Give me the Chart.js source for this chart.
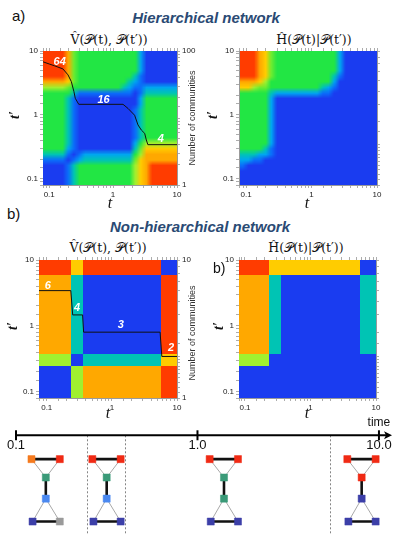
<!DOCTYPE html>
<html><head><meta charset="utf-8">
<script src="https://cdn.jsdelivr.net/npm/chart.js@4.4.1/dist/chart.umd.min.js"></script>
<style>
html,body{margin:0;padding:0;background:#fff}
body{width:399px;height:539px;position:relative;overflow:hidden;font-family:Arial,"Liberation Sans",sans-serif;color:#111}
canvas{position:absolute}
.t{position:absolute;white-space:nowrap;line-height:1;transform:translate(-50%,-50%)}
.pl{font-size:15px;transform:none}
.hd{font-weight:bold;font-style:italic;font-size:15px;color:#2a4a74}
.m{font-family:"DejaVu Serif","Liberation Serif",serif;font-size:12.5px}
.ax{font-family:"Liberation Serif","DejaVu Serif",serif;font-style:italic;font-size:16px}
.ay{font-family:"Liberation Serif","DejaVu Serif",serif;font-style:italic;font-weight:bold;font-size:14px;transform:translate(-50%,-50%) rotate(-90deg)}
.nc{font-size:9px;color:#333;transform:translate(-50%,-50%) rotate(-90deg)}
</style></head><body>
<div class="t pl" style="left:12px;top:8px">a)</div>
<div class="t hd" style="left:206px;top:17px">Hierarchical network</div>
<div class="t m" style="left:109px;top:40px">V&#770;(𝒫(t), 𝒫(t&#8242;))</div>
<div class="t m" style="left:314px;top:40px">Ĥ(𝒫(t)|𝒫(t&#8242;))</div>
<div class="t pl" style="left:7px;top:206px">b)</div>
<div class="t hd" style="left:200px;top:226px">Non-hierarchical network</div>
<div class="t m" style="left:108px;top:248px">V&#770;(𝒫(t), 𝒫(t&#8242;))</div>
<div class="t m" style="left:306px;top:248px">Ĥ(𝒫(t)|𝒫(t&#8242;))</div>

<canvas id="cA1" width="205" height="171" style="left:0;top:44px"></canvas>
<canvas id="cA2" width="194" height="171" style="left:205px;top:44px"></canvas>
<canvas id="cB1" width="205" height="175" style="left:0;top:253px"></canvas>
<canvas id="cB2" width="194" height="175" style="left:205px;top:253px"></canvas>
<canvas id="cT" width="399" height="134" style="left:0;top:405px"></canvas>

<div class="t ay" style="left:15px;top:115px">t&#8242;</div>
<div class="t ay" style="left:213px;top:115px">t&#8242;</div>
<div class="t ay" style="left:13px;top:326px">t&#8242;</div>
<div class="t ay" style="left:219px;top:326px">t&#8242;</div>
<div class="t ax" style="left:110px;top:203px">t</div>
<div class="t ax" style="left:307px;top:203px">t</div>
<div class="t ax" style="left:108px;top:413px">t</div>
<div class="t ax" style="left:307px;top:413px">t</div>
<div class="t nc" style="left:192px;top:118px">Number of communities</div>
<div class="t nc" style="left:192px;top:333px">Number of communities</div>
<div class="t pl" style="left:213px;top:261px;font-size:14px">b)</div>

<script>
// ---------- colour levels (0 = low, 9 = high) ----------
const PALETTE = ['#1a3cf0','#0a6efa','#00a6f0','#00c4b4','#22e644','#6cec30','#a0f030','#ffcc00','#ffa800','#ff3c00'];

// ---------- (a) hierarchical network ----------
const edgesA = [0.08,0.098,0.12,0.146,0.179,0.219,0.267,0.327,0.40,0.489,0.598,0.731,0.894,1.094,1.338,1.636,2.0,2.446,2.991,3.657,4.472,5.469,6.688,8.177,10];
// rows from t'=10 (top) down to t'=0.08 (bottom); one digit per t bin
const V_hier = [
'999985444444444442000000',
'999985444444444442000000',
'999985444444444442000000',
'999985444444444442000000',
'999985444444444431000000',
'888875444444444321000000',
'666654444444443211222222',
'444443111111111101333333',
'444431000000000002444444',
'444431000000000002444444',
'444431000000000013444444',
'444431000000000013444444',
'444431000000000013444444',
'444431000000000013444444',
'444431000000000013444444',
'444431000000000013444444',
'444431000000000024666666',
'444421000000000035777777',
'333310122222222246888888',
'111101233333333357888888',
'000013444444444467899999',
'000013444444444467899999',
'000013444444444467899999',
'000013444444444467899999'];
const H_hier = [
'999875444444444442000000',
'999875444444444442000000',
'999875444444444442000000',
'999875444444444442000000',
'999875444444444431000000',
'888764444444444420000000',
'776554444444443210000000',
'444443222222221100000000',
'444442000000000000000000',
'444442000000000000000000',
'444442000000000000000000',
'444442000000000000000000',
'444442000000000000000000',
'444442000000000000000000',
'444442000000000000000000',
'444442000000000000000000',
'444442000000000000000000',
'444431000000000000000000',
'333221000000000000000000',
'221100000000000000000000',
'100000000000000000000000',
'000000000000000000000000',
'000000000000000000000000',
'000000000000000000000000'];
const commA_t = [0.08,0.1,0.122,0.164,0.197,0.222,0.244,0.256,0.29,1.43,1.71,2.17,2.45,2.77,3.12,3.31,3.5,10];
const commA_n = [69,64,60,54,44,35,24.7,19.7,16,16,13.9,11,7.9,6.6,5.9,4.7,4,4];
const tagA = ['64','16','4'], tagA_t = [0.146,0.71,5.6], tagA_n = [68,18.6,4.9];

// ---------- (b) non-hierarchical network ----------
const edgesB = [0.07,0.24,0.365,5.8,10];
const V_non = ['9790','8309','6037','0689'];
const H_non = ['9770','8303','6000','0000'];
const commB_t = [0.07,0.234,0.25,0.355,0.368,5.5,5.85,10];
const commB_n = [6,6,4,4,3,3,2,2];
const tagB = ['6','4','3','2'], tagB_t = [0.104,0.293,1.37,8.07], tagB_n = [6.5,4.5,3.38,2.3];

// ---------- time line with network snapshots ----------
const timeMarks = [0.1,1,10];
const timeMarkLabels = ['0.1','1.0','10.0'];
const timeBounds = [0.245,0.40,5.4];
const snapT = [0.146,0.316,1.40,8.03];
const RED='#f02a14', ORG='#f57a1e', GRN='#3a9a78', LBL='#4a88f0', DBL='#3c3fa8', GRY='#9a9a9a';
const snapColors = [[ORG,RED,GRN,LBL,DBL,GRY],[RED,RED,GRN,LBL,DBL,DBL],[RED,RED,GRN,GRN,DBL,DBL],[RED,RED,RED,DBL,DBL,DBL]];
const nodeDX = [-0.079,0.077,0,0,-0.073,0.077];   // offsets in decades
const nodeY = [53,53,73,96,121,121];
const edgeList = [[0,1,1],[0,2,0],[1,2,0],[2,3,1],[3,4,0],[3,5,0],[4,5,1]];

// ---------- helpers ----------
function hexRGB(h){ return [parseInt(h.slice(1,3),16),parseInt(h.slice(3,5),16),parseInt(h.slice(5,7),16)]; }
function axis(pos, min, max, labels, size){
  const horiz = pos==='top'||pos==='bottom';
  return {
    type:'logarithmic', position:pos, min:min, max:max,
    afterFit(s){ if(horiz) s.height=size; else s.width=size; },
    grid:{drawOnChartArea:false, drawTicks:true, tickLength:3, color:'#8a8a8a', lineWidth:0.7},
    border:{display:true, color:'#9a9a9a', width:1},
    ticks:{autoSkip:false, maxRotation:0, minRotation:0, padding:2, color:'#222',
      font:{family:'Arial', size:8},
      callback:(v)=>{ const m = labels.find(l=>Math.abs(v/l-1)<1e-6); return m===undefined ? '' : String(m); }}
  };
}
// smooth: cells form a regular (log-spaced) grid and are blended like the original's interpolated image
function heatPlugin(xEdges, yEdges, rows, smooth){
  return {id:'heat', beforeDatasetsDraw(chart){
    const {ctx, chartArea:a, scales:{x,y}} = chart;
    ctx.save();
    ctx.beginPath(); ctx.rect(a.left,a.top,a.right-a.left,a.bottom-a.top); ctx.clip();
    const n = rows.length, m = rows[0].length;
    if(smooth){
      const off = document.createElement('canvas'); off.width=m; off.height=n;
      const octx = off.getContext('2d'); const img = octx.createImageData(m,n);
      rows.forEach((row,r)=>{ for(let c=0;c<m;c++){ const rgb=hexRGB(PALETTE[+row[c]]); const k=(r*m+c)*4;
        img.data[k]=rgb[0]; img.data[k+1]=rgb[1]; img.data[k+2]=rgb[2]; img.data[k+3]=255; } });
      octx.putImageData(img,0,0);
      const x0=x.getPixelForValue(xEdges[0]), x1=x.getPixelForValue(xEdges[m]);
      const y0=y.getPixelForValue(yEdges[n]), y1=y.getPixelForValue(yEdges[0]);
      ctx.imageSmoothingEnabled = true; ctx.imageSmoothingQuality = 'low';
      ctx.drawImage(off, x0, y0, x1-x0, y1-y0);
    } else {
      rows.forEach((row,r)=>{
        const yi = n-1-r;
        const y0 = y.getPixelForValue(yEdges[yi+1]), y1 = y.getPixelForValue(yEdges[yi]);
        for(let c=0;c<m;c++){
          const x0 = x.getPixelForValue(xEdges[c]), x1 = x.getPixelForValue(xEdges[c+1]);
          ctx.fillStyle = PALETTE[+row[c]];
          ctx.fillRect(Math.floor(x0),Math.floor(y0),Math.ceil(x1)-Math.floor(x0),Math.ceil(y1)-Math.floor(y0));
        }
      });
    }
    ctx.restore();
  }};
}
function tagPlugin(texts, ts, ns){
  return {id:'tags', afterDatasetsDraw(chart){
    if(!texts) return;
    const {ctx, scales:{x,yr}} = chart;
    ctx.save();
    ctx.font='italic bold 11px Arial'; ctx.fillStyle='#fff'; ctx.textAlign='center'; ctx.textBaseline='middle';
    texts.forEach((s,i)=>ctx.fillText(s, x.getPixelForValue(ts[i]), yr.getPixelForValue(ns[i])));
    ctx.restore();
  }};
}
function heatChart(id, c){
  const datasets = c.lineT ? [{data:c.lineT.map((t,i)=>({x:t,y:c.lineN[i]})), xAxisID:'x', yAxisID:'yr',
    borderColor:'#111', borderWidth:1, pointRadius:0, fill:false, tension:0}] : [];
  return new Chart(document.getElementById(id), {
    type:'line', data:{datasets},
    options:{responsive:false, animation:false, events:[], layout:{padding:0},
      plugins:{legend:{display:false}, tooltip:{enabled:false}},
      scales:{
        x: axis('bottom', c.xMin, 10, [0.1,1,10], c.b),
        xt: axis('top', c.xMin, 10, [], c.t),
        y: axis('left', c.yMin, 10, [0.1,1,10], c.l),
        yr: axis('right', 1, c.nMax, c.nLabels, c.r)
      }},
    plugins:[heatPlugin(c.xEdges, c.yEdges, c.rows, c.smooth), tagPlugin(c.tags, c.tagT, c.tagN)]
  });
}

heatChart('cA1',{xMin:0.08,yMin:0.08,xEdges:edgesA,yEdges:edgesA,rows:V_hier,smooth:true,nMax:100,nLabels:[1,100],
  l:43,r:28,t:7,b:30,lineT:commA_t,lineN:commA_n,tags:tagA,tagT:tagA_t,tagN:tagA_n});
heatChart('cA2',{xMin:0.078,yMin:0.08,xEdges:edgesA,yEdges:edgesA,rows:H_hier,smooth:true,nMax:10,nLabels:[],
  l:34,r:22,t:7,b:30});
heatChart('cB1',{xMin:0.076,yMin:0.08,xEdges:edgesB,yEdges:edgesB,rows:V_non,nMax:10,nLabels:[1,10],
  l:39,r:28,t:7,b:30,lineT:commB_t,lineN:commB_n,tags:tagB,tagT:tagB_t,tagN:tagB_n});
heatChart('cB2',{xMin:0.081,yMin:0.08,xEdges:edgesB,yEdges:edgesB,rows:H_non,nMax:10,nLabels:[],
  l:34,r:23,t:7,b:30});

// ---------- time line ----------
const AXIS_LEVEL = 27, LABEL_LEVEL = 38, TIME_LEVEL = 13, BOTTOM_LEVEL = 134;
const tDatasets = [];
snapT.forEach((tc,k)=>{
  const pos = nodeDX.map((dx,j)=>({x: tc*Math.pow(10,dx), y: nodeY[j]}));
  tDatasets.push({data:pos, pointStyle:'rect', pointRadius:5, pointBackgroundColor:snapColors[k],
    pointBorderColor:snapColors[k], pointBorderWidth:0.5, showLine:false, order:0});
  edgeList.forEach(([a,b,thick])=>tDatasets.push({data:[pos[a],pos[b]], showLine:true, pointRadius:0,
    borderColor: thick ? '#111' : '#a8a8a8', borderWidth: thick ? 2.6 : 1, order:1}));
});
new Chart(document.getElementById('cT'), {
  type:'scatter', data:{datasets:tDatasets},
  options:{responsive:false, animation:false, events:[], layout:{padding:{left:16,right:7,top:0,bottom:0}},
    plugins:{legend:{display:false}, tooltip:{enabled:false}},
    scales:{
      x:{type:'logarithmic', min:0.1, max:11.8, display:false},
      y:{type:'linear', min:0, max:134, reverse:true, display:false}
    }},
  plugins:[{id:'timeline', beforeDatasetsDraw(chart){
    const {ctx, scales:{x,y}} = chart;
    const y0 = y.getPixelForValue(AXIS_LEVEL);
    ctx.save();
    ctx.strokeStyle='#666'; ctx.lineWidth=0.8; ctx.setLineDash([2,2]);
    timeBounds.forEach(b=>{ const px=Math.round(x.getPixelForValue(b))+0.5;
      ctx.beginPath(); ctx.moveTo(px,y0); ctx.lineTo(px,y.getPixelForValue(BOTTOM_LEVEL)); ctx.stroke(); });
    ctx.setLineDash([]);
    const xa = x.getPixelForValue(0.1), xr = x.right;
    ctx.strokeStyle='#000'; ctx.lineWidth=2;
    ctx.beginPath(); ctx.moveTo(xa-1,y0); ctx.lineTo(xr-5,y0); ctx.stroke();
    ctx.fillStyle='#000';
    ctx.beginPath(); ctx.moveTo(xr,y0); ctx.lineTo(xr-8,y0-4); ctx.lineTo(xr-6,y0); ctx.lineTo(xr-8,y0+4); ctx.closePath(); ctx.fill();
    timeMarks.forEach(v=>{ const px=x.getPixelForValue(v);
      ctx.beginPath(); ctx.moveTo(px,y0-5); ctx.lineTo(px,y0+5); ctx.stroke(); });
    ctx.font='13px Arial'; ctx.textAlign='center'; ctx.textBaseline='middle'; ctx.fillStyle='#111';
    timeMarks.forEach((v,i)=>ctx.fillText(timeMarkLabels[i], x.getPixelForValue(v), y.getPixelForValue(LABEL_LEVEL)));
    ctx.font='12px Arial';
    ctx.fillText('time', x.getPixelForValue(10), y.getPixelForValue(TIME_LEVEL));
    ctx.restore();
  }}]
});
</script>
</body></html>
